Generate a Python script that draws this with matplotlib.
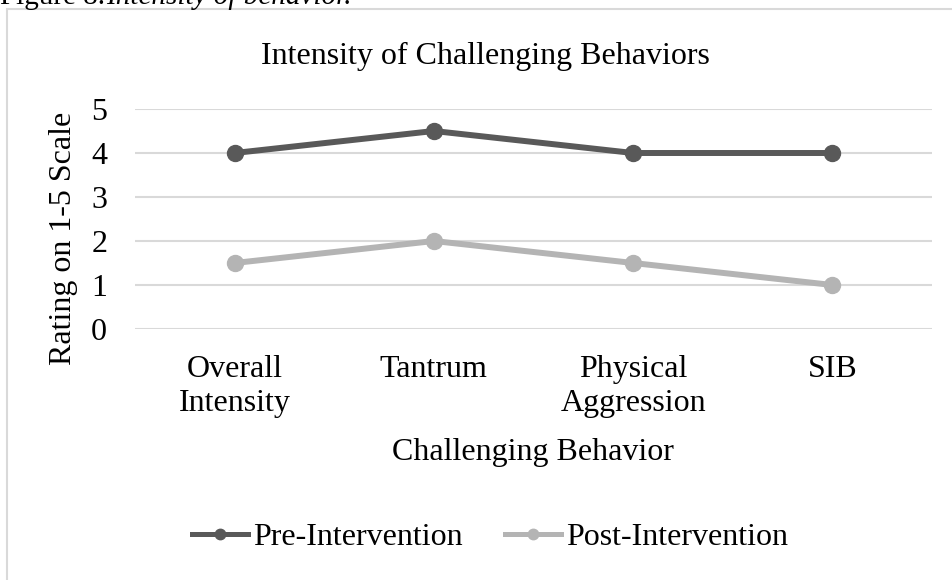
import matplotlib
matplotlib.use("Agg")
from matplotlib import pyplot as plt
from matplotlib.patches import Rectangle
from matplotlib.lines import Line2D

categories = ["Overall\nIntensity", "Tantrum", "Physical\nAggression", "SIB"]
pre_values = [4, 4.5, 4, 4]
post_values = [1.5, 2, 1.5, 1]
series_names = ["Pre-Intervention", "Post-Intervention"]
series_colors = ["#595959", "#b4b4b4"]
y_ticks = [0, 1, 2, 3, 4, 5]

W, H = 952, 580
FS = 23
plt.rcParams['font.family'] = ['Liberation Serif', 'DejaVu Serif']

fig = plt.figure(figsize=(W / 100, H / 100), dpi=100)
fig.patch.set_facecolor("white")

# chart frame (runs off the right and bottom of the picture)
fig.patches.append(Rectangle((7 / W, -0.05), 1.1, 1 - 9 / H + 0.05,
                             transform=fig.transFigure, fill=False,
                             edgecolor="#d9d9d9", linewidth=1.5))

# caption cut off at the top, as in the source page
fig.text(0.0, 1 - 4 / H, "Figure 8.", fontsize=21, va="baseline", ha="left")
fig.text(106 / W, 1 - 4 / H, "Intensity of behavior.", fontsize=21,
         va="baseline", ha="left", style="italic")

ax = fig.add_axes([135 / W, 1 - 329 / H, (932 - 135) / W, (329 - 109) / H])
x = list(range(len(categories)))
ax.plot(x, pre_values, color=series_colors[0], linewidth=4.3, marker="o",
        markersize=11.5, zorder=3, solid_capstyle="round")
ax.plot(x, post_values, color=series_colors[1], linewidth=4.3, marker="o",
        markersize=11.5, zorder=3, solid_capstyle="round")

ax.set_xlim(-0.5, len(categories) - 0.5)
ax.set_ylim(0, 5)
ax.set_yticks(y_ticks)
ax.set_xticks(x)
ax.set_xticklabels(categories, fontsize=FS, linespacing=1.2)
ax.tick_params(axis="y", labelsize=FS, length=0, pad=20)
ax.tick_params(axis="x", length=0, pad=19)
ax.grid(axis="y", color="#d9d9d9", linewidth=1.5)
ax.set_axisbelow(True)
for s in ax.spines.values():
    s.set_visible(False)

fig.text(485 / W, 1 - 64 / H, "Intensity of Challenging Behaviors",
         fontsize=FS, ha="center", va="baseline")
fig.text(533 / W, 1 - 460 / H, "Challenging Behavior", fontsize=FS,
         ha="center", va="baseline")
fig.text(64 / W, 1 - 238 / H, "Rating on 1-5 Scale", fontsize=FS,
         ha="center", va="center", rotation=90)

handles = [Line2D([], [], color=c, linewidth=3.6, marker="o", markersize=7.5)
           for c in series_colors]
fig.legend(handles, series_names, loc="center",
           bbox_to_anchor=(490 / W, 1 - 537 / H), ncol=2,
           frameon=False, fontsize=FS, handlelength=1.75, handletextpad=0.15,
           columnspacing=1.35, borderpad=0, borderaxespad=0)

fig.savefig("out.png", dpi=100)
